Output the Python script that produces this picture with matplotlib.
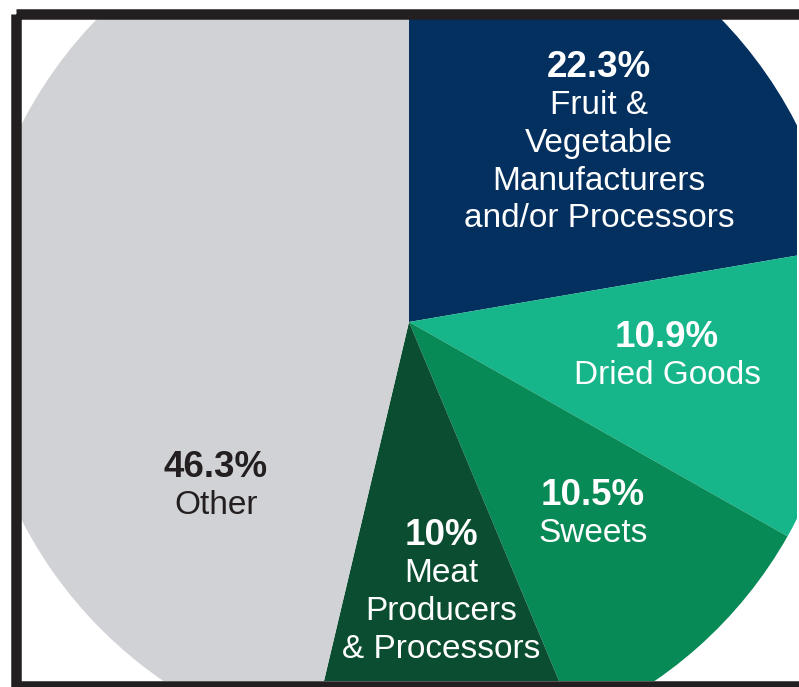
"""Pie chart of food-industry segments, cropped inside a black frame."""
import matplotlib

matplotlib.use("Agg")
import matplotlib.pyplot as plt
from matplotlib.patches import Polygon, Rectangle

plt.rcParams["font.family"] = ["Liberation Sans", "DejaVu Sans"]

# data
segments = ["Fruit & Vegetable", "Dried Goods", "Sweets", "Meat", "Other"]
shares = [22.3, 10.9, 10.5, 10.0, 46.3]
pct_labels = ["22.3%", "10.9%", "10.5%", "10%", "46.3%"]
name_labels = [
    ["Fruit &", "Vegetable", "Manufacturers", "and/or Processors"],
    ["Dried Goods"],
    ["Sweets"],
    ["Meat", "Producers", "& Processors"],
    ["Other"],
]
colors = ["#03305f", "#16b58a", "#078a55", "#0a4d30", "#d1d2d5"]
text_colors = ["white", "white", "white", "white", "#231f20"]

# layout (pixel coords, y down): label anchor x and baseline of the % line
label_xy = [(599, 77), (667, 347), (593, 505), (441, 545), (216, 477)]
line_gap = 37.5

W, H = 799, 687
CX, CY, R = 409, 322, 435

fig = plt.figure(figsize=(W / 100, H / 100), dpi=100)
ax = fig.add_axes([0, 0, 1, 1])

# y axis inverted below, so data-counterclockwise reads clockwise on screen
wedges, _ = ax.pie(
    shares,
    colors=colors,
    startangle=-90,
    counterclock=True,
    center=(CX, CY),
    radius=R,
    wedgeprops=dict(linewidth=0),
)
ax.set_xlim(0, W)
ax.set_ylim(H, 0)
ax.set_aspect("equal")
ax.axis("off")

# crop the pie to the inside of the frame (pie turns clipping off by default)
clip = Polygon([(21, 19), (797, 19), (797, 681), (21, 681)], closed=True,
               transform=ax.transData)
for w in wedges:
    w.set_clip_on(True)
    w.set_clip_path(clip)

# frame
ax.add_patch(Rectangle((15.5, 14), 802 - 15.5, 686 - 14, facecolor="none",
                       edgecolor="#231f20", linewidth=10.5 * 72 / 100,
                       zorder=5, clip_on=False))

for (x, y), pct, lines, tc in zip(label_xy, pct_labels, name_labels, text_colors):
    ax.text(x, y, pct, ha="center", va="baseline", fontsize=26.5,
            fontweight="bold", color=tc, zorder=6)
    for i, line in enumerate(lines, start=1):
        ax.text(x, y + i * line_gap, line, ha="center", va="baseline",
                fontsize=24, color=tc, zorder=6)

fig.savefig("out.png", dpi=100)
